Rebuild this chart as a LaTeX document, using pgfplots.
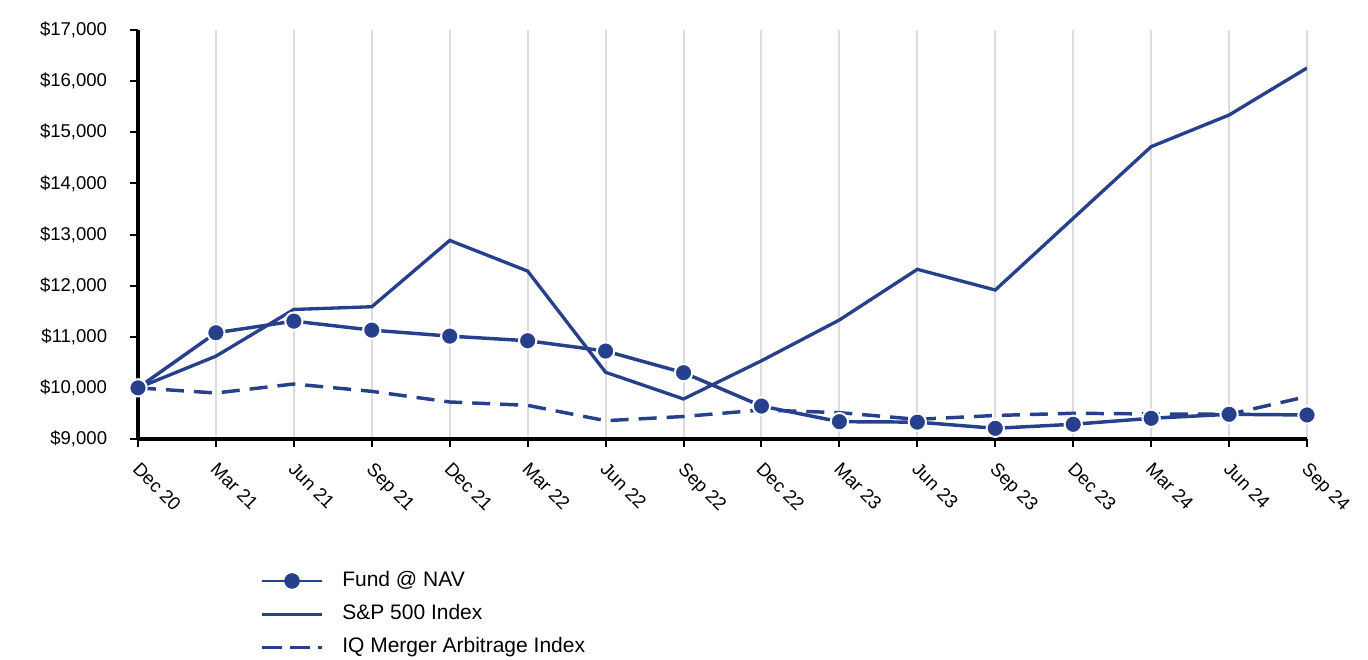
\documentclass[border=0pt]{standalone}
\usepackage{pgfplots}
\pgfplotsset{compat=1.18}
\usepackage{fontspec}
\setmainfont{Liberation Sans}
\definecolor{main}{RGB}{39,64,140}
\definecolor{gridc}{RGB}{220,220,220}
\begin{document}
\begin{tikzpicture}
\path[use as bounding box] (0,0) rectangle (1026pt,495pt);
\begin{axis}[
  at={(103.5pt,165.75pt)}, anchor=south west,
  scale only axis, width=876.75pt, height=306.75pt,
  xmin=0, xmax=15, ymin=9000, ymax=17000,
  axis x line=bottom, axis y line=left,
  axis line style={line width=2.4pt, black, -},
  xtick={0,...,15},
  xticklabels={Dec 20,Mar 21,Jun 21,Sep 21,Dec 21,Mar 22,Jun 22,Sep 22,Dec 22,Mar 23,Jun 23,Sep 23,Dec 23,Mar 24,Jun 24,Sep 24},
  ytick={9000,10000,...,17000},
  scaled y ticks=false,
  tick align=outside, major tick length=6pt,
  tick style={black, line width=1.5pt},
  xmajorgrids, major grid style={gridc, line width=1.5pt},
  /pgf/number format/.cd, fixed, 1000 sep={,}, assume math mode=true,
  /pgfplots/.cd,
  yticklabel={\$\pgfmathprintnumber{\tick}},
  tick label style={font=\fontsize{13.9pt}{16pt}\selectfont},
  yticklabel style={anchor=east, inner sep=0pt, xshift=-17pt},
  xticklabel style={xshift=2.2pt, yshift=-10.3pt, rotate=-45, anchor=north west, inner sep=0pt},
  legend style={at={(0.1044,-0.322)}, anchor=north west, draw=none, fill=none,
    inner sep=0pt, row sep=10pt,
    font=\fontsize{15.75pt}{18pt}\selectfont,
    nodes={inner sep=0pt, text height=11.5pt, text depth=3.5pt}},
  legend cell align=left,
]
\addlegendimage{legend image code/.code={
  \draw[main, line width=1.4pt] (0pt,0pt) -- (45pt,0pt);
  \fill[main] (22.5pt,0pt) circle (5.6pt);
  \path (60pt,0pt);}}
\addlegendentry{Fund @ NAV}
\addlegendimage{legend image code/.code={
  \draw[main, line width=2.6pt] (0pt,0pt) -- (45pt,0pt);
  \path (60pt,0pt);}}
\addlegendentry{S\&P 500 Index}
\addlegendimage{legend image code/.code={
  \draw[main, line width=2.6pt, dash pattern=on 15pt off 6pt] (0pt,0pt) -- (45pt,0pt);
  \path (60pt,0pt);}}
\addlegendentry{IQ Merger Arbitrage Index}

\addplot[forget plot, main, line width=2.6pt, dash pattern=on 13.5pt off 7.5pt] coordinates {
(0,10000) (1,9900) (2,10076) (3,9932) (4,9724) (5,9658) (6,9358) (7,9440) (8,9567) (9,9515) (10,9385) (11,9460) (12,9503) (13,9490) (14,9483) (15,9830)
};
\addplot[forget plot, main, line width=2.5pt] coordinates {
(0,10000) (1,10620) (2,11534) (3,11587) (4,12884) (5,12284) (6,10305) (7,9783) (8,10530) (9,11328) (10,12319) (11,11914) (12,13317) (13,14718) (14,15337) (15,16257)
};
\addplot[forget plot, main, line width=2.6pt, mark=*, mark size=6.5pt,
  mark options={fill=main, draw=white, line width=1.5pt}] coordinates {
(0,10000) (1,11078) (2,11305) (3,11130) (4,11012) (5,10922) (6,10720) (7,10297) (8,9644) (9,9339) (10,9330) (11,9209) (12,9288) (13,9405) (14,9483) (15,9470)
};
\end{axis}
\end{tikzpicture}
\end{document}
